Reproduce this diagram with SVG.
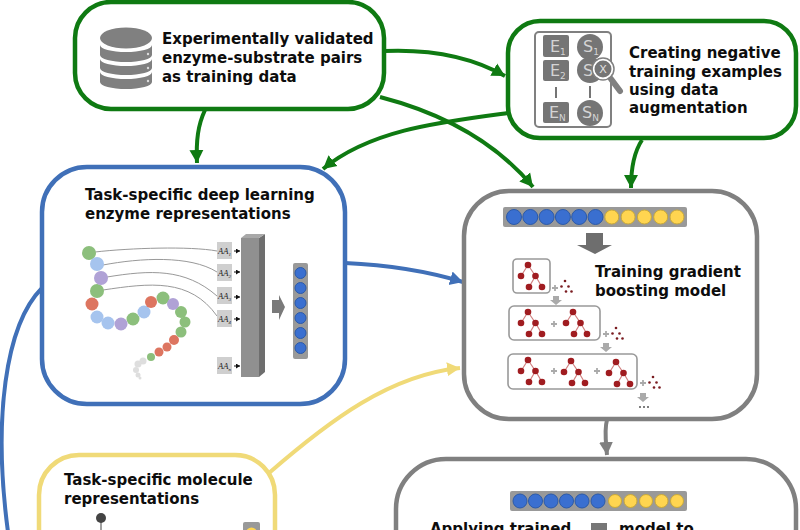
<svg xmlns="http://www.w3.org/2000/svg" width="800" height="530" viewBox="0 0 800 530">
<style>
text{font-family:"DejaVu Sans","Liberation Sans",sans-serif}
.t{font-weight:700;font-size:15px;fill:#0d0d0d}
.box{fill:#fff;stroke-width:4.5}
.g{stroke:#0f7a12}.b{stroke:#4070b8}.y{stroke:#f0da78}.k{stroke:#808080}
.c{fill:none;stroke-width:4}
.aa{fill:#cfcfcf}
.aat{font-family:"Liberation Serif",serif;font-style:italic;font-size:8.5px;fill:#222}
.l{fill:none;stroke:#999;stroke-width:1}
.sm{stroke:#111;stroke-width:1;fill:none}
.ci{fill:#d4d4d4;font-size:16px}
.bl{fill:#3a6fd0;stroke:#2c5aa8;stroke-width:1}
.ye{fill:#ffd550;stroke:#c9a93a;stroke-width:1}
.tb{fill:#fff;stroke:#999;stroke-width:1.6}
</style>
<defs>
<marker id="ag" markerUnits="userSpaceOnUse" markerWidth="16" markerHeight="16" refX="13" refY="8" orient="auto"><path d="M0,1L13,8L0,15Z" fill="#0f7a12"/></marker>
<marker id="ab" markerUnits="userSpaceOnUse" markerWidth="16" markerHeight="16" refX="13" refY="8" orient="auto"><path d="M0,1L13,8L0,15Z" fill="#4070b8"/></marker>
<marker id="ay" markerUnits="userSpaceOnUse" markerWidth="16" markerHeight="16" refX="13" refY="8" orient="auto"><path d="M0,1L13,8L0,15Z" fill="#f0da78"/></marker>
<marker id="ak" markerUnits="userSpaceOnUse" markerWidth="16" markerHeight="16" refX="13" refY="8" orient="auto"><path d="M0,1L13,8L0,15Z" fill="#808080"/></marker>
<marker id="as" markerUnits="userSpaceOnUse" markerWidth="5" markerHeight="5" refX="4" refY="2.5" orient="auto"><path d="M0,0L4,2.5L0,5Z" fill="#111"/></marker>
<g id="tree">
<path d="M0,0L-7,11M0,0L7.5,11L1,22M7.5,11L14,22" stroke="#d08080" stroke-width="1.2" fill="none"/>
<g fill="#a01c20"><circle r="3.300"/><circle cx="-7" cy="11" r="3.300"/><circle cx="7.500" cy="11" r="3.300"/><circle cx="1" cy="22" r="3.300"/><circle cx="14" cy="22" r="3.300"/></g>
</g>
<g id="mini" fill="#7a1c20"><circle r="1.300"/><circle cx="-3.500" cy="5.500" r="1.300"/><circle cx="3.500" cy="5.500" r="1.300"/><circle cx="1" cy="10.500" r="1.300"/><circle cx="6.500" cy="10.500" r="1.300"/></g>
<path id="down" d="M-3,-4H3V0H6L0,5L-6,0H-3Z" fill="#aaa"/>
<g id="plus"><path d="M-3,0H3M0,-3V3" stroke="#aaa" stroke-width="1.800"/></g>
</defs>
<rect width="800" height="530" fill="#fff"/>

<g id="connectors">
<path class="c g" d="M205,110C198,125 196,140 197,163" marker-end="url(#ag)"/>
<path class="c g" d="M384,51C430,49 470,56 505,76" marker-end="url(#ag)"/>
<path class="c g" d="M380,97C430,110 490,135 533,187" marker-end="url(#ag)"/>
<path class="c g" d="M508,113C440,122 370,130 323,169" marker-end="url(#ag)"/>
<path class="c g" d="M642,140C634,152 631,168 631,188" marker-end="url(#ag)"/>
<path class="c b" d="M345,263C390,265 430,272 463,282" marker-end="url(#ab)"/>
<path class="c b" d="M42,288C5,325 -7,420 8,532"/>
<path class="c y" d="M269,473C330,420 390,375 460,368" marker-end="url(#ay)"/>
<path class="c k" d="M607,420C604,430 606,442 607,455" marker-end="url(#ak)"/>
</g>

<g id="node-data">
<rect class="box g" x="75" y="2" width="309" height="107" rx="36"/>
<g fill="#808080">
<ellipse cx="126" cy="38" rx="26" ry="10.500"/>
<path d="M100,45A26,7 0 0 0 152,45V55A26,7 0 0 1 100,55Z"/>
<path d="M100,59A26,7 0 0 0 152,59V68A26,7 0 0 1 100,68Z"/>
<path d="M100,72A26,7 0 0 0 152,72V82A26,7 0 0 1 100,82Z"/>
</g>
<g fill="#ddd"><circle cx="148" cy="54" r="1.200"/><circle cx="148" cy="68" r="1.200"/><circle cx="148" cy="81" r="1.200"/></g>
<text class="t" x="162" y="44">Experimentally validated</text>
<text class="t" x="162" y="63">enzyme-substrate pairs</text>
<text class="t" x="162" y="82">as training data</text>
</g>

<g id="node-negative">
<rect class="box g" x="508" y="21" width="288" height="117" rx="32"/>
<rect x="535" y="32" width="76" height="95" rx="4" fill="#fff" stroke="#808080" stroke-width="2"/>
<g fill="#757575">
<rect x="543" y="35" width="26" height="22" rx="2"/>
<rect x="543" y="60" width="26" height="21" rx="2"/>
<rect x="543" y="102" width="26" height="21" rx="2"/>
<circle cx="590" cy="47" r="13"/>
<circle cx="590" cy="70" r="13"/>
<circle cx="590" cy="113" r="13"/>
<rect x="555" y="87" width="2" height="11"/>
<rect x="589" y="86" width="2" height="12"/>
</g>
<text class="ci" x="550" y="52">E<tspan font-size="9" dy="3">1</tspan></text>
<text class="ci" x="550" y="76">E<tspan font-size="9" dy="3">2</tspan></text>
<text class="ci" x="549" y="118">E<tspan font-size="9" dy="3">N</tspan></text>
<text class="ci" x="583" y="52">S<tspan font-size="9" dy="3">1</tspan></text>
<text class="ci" x="583" y="76">S</text>
<text class="ci" x="582" y="118">S<tspan font-size="9" dy="3">N</tspan></text>
<path d="M611,79L620,91" stroke="#808080" stroke-width="6" stroke-linecap="round"/>
<circle cx="603" cy="69" r="9.500" fill="#757575" stroke="#fff" stroke-width="2"/>
<circle cx="603" cy="69" r="11" fill="none" stroke="#808080" stroke-width="1.500"/>
<text x="603" y="73" text-anchor="middle" font-size="11" fill="#e0e0e0">X</text>
<text class="t" x="629" y="58">Creating negative</text>
<text class="t" x="629" y="77">training examples</text>
<text class="t" x="629" y="95">using data</text>
<text class="t" x="629" y="113">augmentation</text>
</g>

<g id="node-enzyme">
<rect class="box b" x="42" y="167" width="303" height="237" rx="45"/>
<text class="t" x="85" y="200">Task-specific deep learning</text>
<text class="t" x="85" y="219">enzyme representations</text>
<path class="l" d="M95,252C130,248 190,246 217,251"/>
<path class="l" d="M103,265C140,258 190,255 217,272"/>
<path class="l" d="M107,277C150,270 185,268 217,296"/>
<path class="l" d="M103,290C150,283 190,278 217,316"/>
<g>
<g fill="#8cbf7c"><circle cx="89" cy="253" r="7"/><circle cx="97" cy="291" r="7"/><circle cx="133" cy="319" r="6.500"/><circle cx="163" cy="298" r="6.500"/><circle cx="181" cy="312" r="6"/><circle cx="185" cy="322" r="5.500"/><circle cx="181" cy="332" r="5.500"/><circle cx="151" cy="357" r="4"/></g>
<g fill="#a6c4ee"><circle cx="97" cy="264" r="7"/><circle cx="97" cy="317" r="6.500"/><circle cx="108" cy="323" r="6.500"/><circle cx="144" cy="312" r="6.500"/></g>
<g fill="#b0a2d6"><circle cx="101" cy="278" r="7"/><circle cx="121" cy="324" r="6.500"/><circle cx="173" cy="304" r="6"/></g>
<g fill="#dd7560"><circle cx="92" cy="304" r="6.500"/><circle cx="151" cy="302" r="6"/><circle cx="174" cy="340" r="5"/><circle cx="167" cy="347" r="4.500"/><circle cx="159" cy="352" r="4.500"/></g>
<g fill="#dedede"><circle cx="143" cy="361" r="3.500"/><circle cx="138" cy="364" r="3.500"/><circle cx="136" cy="370" r="3"/><circle cx="138" cy="375" r="2.500"/><circle cx="140" cy="378" r="1.500"/></g>
</g>
<g class="aa">
<rect x="217" y="242" width="15" height="17"/>
<rect x="217" y="264" width="15" height="17"/>
<rect x="217" y="287" width="15" height="17"/>
<rect x="217" y="310" width="15" height="17"/>
<rect x="217" y="357" width="15" height="17"/>
</g>
<text class="aat" x="218" y="254">AA<tspan font-size="5" dy="1.500">1</tspan></text>
<text class="aat" x="218" y="276">AA<tspan font-size="5" dy="1.500">2</tspan></text>
<text class="aat" x="218" y="299">AA<tspan font-size="5" dy="1.500">3</tspan></text>
<text class="aat" x="218" y="322">AA<tspan font-size="5" dy="1.500">4</tspan></text>
<text class="aat" x="218" y="369">AA<tspan font-size="5" dy="1.500">n</tspan></text>
<g class="sm">
<path d="M234,251H240" marker-end="url(#as)"/>
<path d="M234,272H240" marker-end="url(#as)"/>
<path d="M234,297H240" marker-end="url(#as)"/>
<path d="M234,319H240" marker-end="url(#as)"/>
<path d="M234,366H240" marker-end="url(#as)"/>
</g>
<rect x="241" y="238" width="18" height="139" fill="#909090"/>
<path d="M259,238L265,234V372L259,377Z" fill="#6e6e6e"/>
<path d="M241,238L246,234H265L259,238Z" fill="#a8a8a8"/>
<path d="M272,300H279V295L285,307L279,320V313H272Z" fill="#7a7a7a"/>
<rect x="293" y="263" width="15" height="96" rx="2" fill="#999"/>
<g class="bl"><circle cx="300.500" cy="273" r="5.500"/><circle cx="300.500" cy="288" r="5.500"/><circle cx="300.500" cy="303" r="5.500"/><circle cx="300.500" cy="318" r="5.500"/><circle cx="300.500" cy="333" r="5.500"/><circle cx="300.500" cy="348" r="5.500"/></g>
</g>

<g id="node-training">
<rect class="box k" x="464" y="191" width="293" height="228" rx="45"/>
<rect x="503" y="207" width="184" height="20" rx="2" fill="#999"/>
<g class="bl"><circle cx="514" cy="217" r="7.500"/><circle cx="530.300" cy="217" r="7.500"/><circle cx="546.600" cy="217" r="7.500"/><circle cx="562.900" cy="217" r="7.500"/><circle cx="579.200" cy="217" r="7.500"/><circle cx="595.500" cy="217" r="7.500"/></g>
<g class="ye"><circle cx="611.800" cy="217" r="7"/><circle cx="628.100" cy="217" r="7"/><circle cx="644.400" cy="217" r="7"/><circle cx="660.700" cy="217" r="7"/><circle cx="677" cy="217" r="7"/></g>
<path d="M586,233H603V245H612L595,254L577,245H586Z" fill="#6e6e6e"/>
<text class="t" x="595" y="277">Training gradient</text>
<text class="t" x="595" y="296">boosting model</text>
<rect class="tb" x="513" y="259" width="37" height="34" rx="4"/>
<rect class="tb" x="509" y="306" width="91" height="34" rx="5"/>
<rect class="tb" x="508" y="354" width="129" height="35" rx="5"/>
<use href="#tree" x="528" y="265"/>
<use href="#tree" x="528" y="312"/>
<use href="#tree" x="573" y="312"/>
<use href="#tree" x="528" y="360"/>
<use href="#tree" x="571" y="361"/>
<use href="#tree" x="616" y="362"/>
<use href="#plus" x="554" y="324"/>
<use href="#plus" x="554" y="371"/>
<use href="#plus" x="597" y="371"/>
<use href="#plus" x="555" y="288"/>
<use href="#plus" x="606" y="334"/>
<use href="#plus" x="643" y="383"/>
<use href="#mini" x="565" y="281"/>
<use href="#mini" x="616" y="328"/>
<use href="#mini" x="653" y="377"/>
<use href="#down" x="556" y="300"/>
<use href="#down" x="606" y="347"/>
<use href="#down" x="643" y="397"/>
<g fill="#555"><circle cx="640" cy="407" r="1"/><circle cx="644" cy="407" r="1"/><circle cx="648" cy="407" r="1"/></g>
</g>

<g id="node-molecule">
<rect class="box y" x="39" y="455" width="236" height="120" rx="40"/>
<text class="t" x="64" y="485">Task-specific molecule</text>
<text class="t" x="64" y="504">representations</text>
<path d="M101,518V530" stroke="#808080" stroke-width="1.500"/>
<circle cx="101" cy="518" r="5" fill="#444"/>
<rect x="243" y="522" width="17" height="20" rx="2" fill="#999"/>
<circle cx="251.500" cy="533" r="5.500" fill="#ffd550"/>
</g>

<g id="node-applying">
<rect class="box k" x="396" y="459" width="400" height="120" rx="50"/>
<rect x="510" y="491" width="177" height="20" rx="2" fill="#999"/>
<g class="bl"><circle cx="520" cy="501" r="7"/><circle cx="535.500" cy="501" r="7"/><circle cx="551" cy="501" r="7"/><circle cx="566.500" cy="501" r="7"/><circle cx="582" cy="501" r="7"/><circle cx="598" cy="501" r="7"/></g>
<g class="ye"><circle cx="615" cy="501" r="6.500"/><circle cx="630.500" cy="501" r="6.500"/><circle cx="646" cy="501" r="6.500"/><circle cx="661.500" cy="501" r="6.500"/><circle cx="677" cy="501" r="6.500"/></g>
<rect x="591" y="523" width="16" height="10" fill="#777"/>
<text class="t" x="430" y="534">Applying trained</text>
<text class="t" x="619" y="534">model to</text>
</g>
</svg>
